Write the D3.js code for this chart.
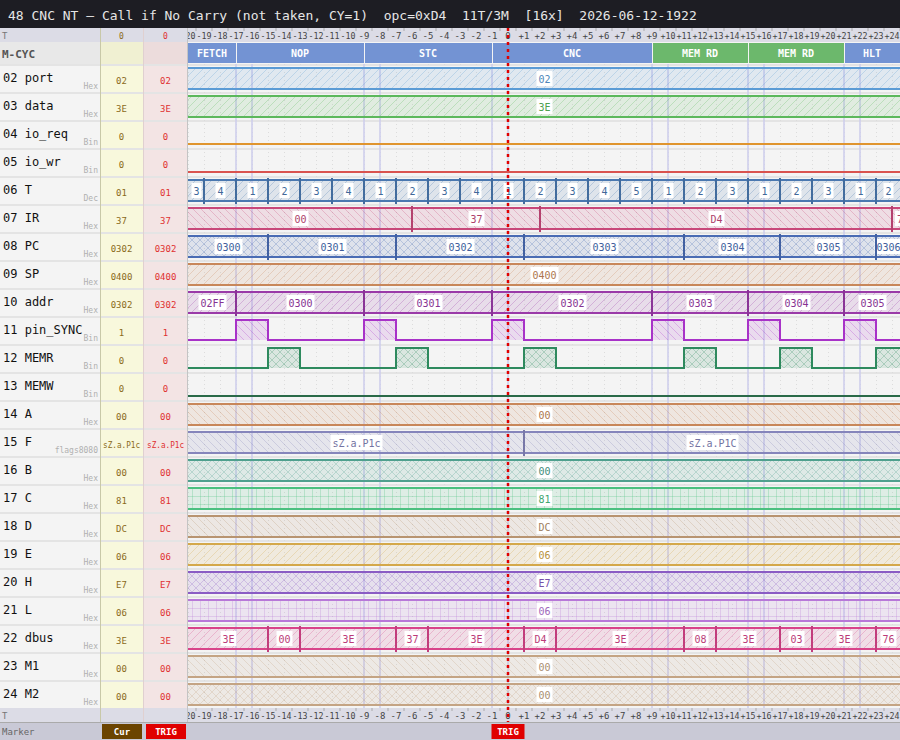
<!DOCTYPE html>
<html>
<head>
<meta charset="utf-8">
<script src="https://cdn.jsdelivr.net/npm/d3@7"></script>
<style>
  body { margin: 0; background: #f4f4f4; }
  svg { display: block; font-family: "DejaVu Sans Mono", monospace; }
</style>
</head>
<body>
<svg id="chart" width="900" height="740"></svg>
<script>
// time axis (half-clock ticks) and machine cycles
var ticks = d3.range(-20, 25);
var mcycNames  = ["FETCH", "NOP", "STC", "CNC", "MEM RD", "MEM RD", "HLT"];
var mcycStarts = [-20, -17, -9, -1, 9, 15, 21];
var mcycKinds  = ["op", "op", "op", "op", "mem", "mem", "op"];

// signal names, display type, cur/trig values
var sigNames = ["02 port", "03 data", "04 io_req", "05 io_wr", "06 T", "07 IR", "08 PC", "09 SP",
  "10 addr", "11 pin_SYNC", "12 MEMR", "13 MEMW", "14 A", "15 F", "16 B", "17 C", "18 D", "19 E",
  "20 H", "21 L", "22 dbus", "23 M1", "24 M2"];
var sigTypes = ["Hex", "Hex", "Bin", "Bin", "Dec", "Hex", "Hex", "Hex", "Hex", "Bin", "Bin", "Bin",
  "Hex", "flags8080", "Hex", "Hex", "Hex", "Hex", "Hex", "Hex", "Hex", "Hex", "Hex"];
var curVals = ["02", "3E", "0", "0", "01", "37", "0302", "0400", "0302", "1", "0", "0",
  "00", "sZ.a.P1c", "00", "81", "DC", "06", "E7", "06", "3E", "00", "00"];
var trigVals = curVals.slice();

// waveforms: [start tick, value]
var portSeg = [[-20, "02"]];
var dataSeg = [[-20, "3E"]];
var ioReq   = [[-20, 0]];
var ioWr    = [[-20, 0]];
var tSeg    = [[-20, "3"], [-19, "4"], [-17, "1"], [-15, "2"], [-13, "3"], [-11, "4"], [-9, "1"],
  [-7, "2"], [-5, "3"], [-3, "4"], [-1, "1"], [1, "2"], [3, "3"], [5, "4"], [7, "5"], [9, "1"],
  [11, "2"], [13, "3"], [15, "1"], [17, "2"], [19, "3"], [21, "1"], [23, "2"]];
var irSeg   = [[-20, "00"], [-6, "37"], [2, "D4"], [24, "76"]];
var pcSeg   = [[-20, "0300"], [-15, "0301"], [-7, "0302"], [1, "0303"], [11, "0304"], [17, "0305"], [23, "0306"]];
var spSeg   = [[-20, "0400"]];
var addrSeg = [[-20, "02FF"], [-17, "0300"], [-9, "0301"], [-1, "0302"], [9, "0303"], [15, "0304"], [21, "0305"]];
var syncBin = [[-20, 0], [-17, 1], [-15, 0], [-9, 1], [-7, 0], [-1, 1], [1, 0], [9, 1], [11, 0], [15, 1], [17, 0], [21, 1], [23, 0]];
var memrBin = [[-20, 0], [-15, 1], [-13, 0], [-7, 1], [-5, 0], [1, 1], [3, 0], [11, 1], [13, 0], [17, 1], [19, 0], [23, 1]];
var memwBin = [[-20, 0]];
var aSeg = [[-20, "00"]];
var fSeg = [[-20, "sZ.a.P1c"], [1, "sZ.a.P1C"]];
var bSeg = [[-20, "00"]];
var cSeg = [[-20, "81"]];
var dSeg = [[-20, "DC"]];
var eSeg = [[-20, "06"]];
var hSeg = [[-20, "E7"]];
var lSeg = [[-20, "06"]];
var dbusSeg = [[-20, "3E"], [-15, "00"], [-13, "3E"], [-7, "37"], [-5, "3E"], [1, "D4"], [3, "3E"],
  [11, "08"], [13, "3E"], [17, "03"], [19, "3E"], [23, "76"]];
var m1Seg = [[-20, "00"]];
var m2Seg = [[-20, "00"]];

var waves = [portSeg, dataSeg, ioReq, ioWr, tSeg, irSeg, pcSeg, spSeg, addrSeg, syncBin, memrBin, memwBin,
  aSeg, fSeg, bSeg, cSeg, dSeg, eSeg, hSeg, lSeg, dbusSeg, m1Seg, m2Seg];
var colors = ["#5b9bd5", "#5cb85c", "#e0952e", "#d9534f", "#4a78b0", "#c8487a", "#4a6cb4", "#c8875a",
  "#9a3aa8", "#a832c8", "#2e8a5e", "#2a6a48", "#c8875a", "#8585bb", "#4fa08e", "#4cc080", "#b89470",
  "#d4a84a", "#8a5cc4", "#b878d8", "#d8448a", "#c4a484", "#c4a484"];
var pats = ["fwd", "fwd", "", "", "fwd", "back", "cross", "fwd", "fwd", "back", "cross", "",
  "back", "back", "cross", "grid", "back", "fwd", "cross", "grid", "fwd", "back", "cross"];

var svg = d3.select("#chart");
var W = 900;
var x0 = 188, xEnd = 900;
var x = d3.scaleLinear().domain([-20, 24]).range([188, 892]);
var tMax = x.invert(xEnd);
var rowTop = 64, rowH = 28;
var y = function (i) { return rowTop + i * rowH; };

// patterns
var defs = svg.append("defs");
colors.forEach(function (c, i) {
  if (!pats[i]) return;
  var p = defs.append("pattern").attr("id", "p" + i).attr("patternUnits", "userSpaceOnUse")
    .attr("width", 8).attr("height", 8);
  p.append("rect").attr("width", 8).attr("height", 8).attr("fill", c).attr("fill-opacity", 0.13);
  var st = { stroke: c, "stroke-opacity": 0.35, "stroke-width": 0.8 };
  var lines = [];
  if (pats[i] === "fwd" || pats[i] === "cross") lines.push([0, 8, 8, 0], [-2, 2, 2, -2], [6, 10, 10, 6]);
  if (pats[i] === "back" || pats[i] === "cross") lines.push([0, 0, 8, 8], [-2, 6, 2, 10], [6, -2, 10, 2]);
  if (pats[i] === "grid") lines.push([0, 0.5, 8, 0.5], [0.5, 0, 0.5, 8]);
  lines.forEach(function (l) {
    var ln = p.append("line").attr("x1", l[0]).attr("y1", l[1]).attr("x2", l[2]).attr("y2", l[3]);
    for (var k in st) ln.attr(k, st[k]);
  });
});
defs.append("clipPath").attr("id", "plotClip").append("rect")
  .attr("x", x0).attr("y", 0).attr("width", xEnd - x0).attr("height", 740);

// title bar
svg.append("rect").attr("width", W).attr("height", 28).attr("fill", "#1d1d23");
svg.append("text").attr("x", 8).attr("y", 20).attr("fill", "#e6e6e6").attr("font-size", 13)
  .style("white-space", "pre")
  .text("48 CNC NT \u2014 Call if No Carry (not taken, CY=1)  opc=0xD4  11T/3M  [16x]  2026-06-12-1922");

// column backgrounds
svg.append("rect").attr("x", 0).attr("y", 28).attr("width", 100).attr("height", 694).attr("fill", "#f4f4f4");
svg.append("rect").attr("x", 100).attr("y", 28).attr("width", 43).attr("height", 694).attr("fill", "#f8f8dc");
svg.append("rect").attr("x", 143).attr("y", 28).attr("width", 45).attr("height", 694).attr("fill", "#f3e4e4");
svg.append("rect").attr("x", x0).attr("y", 28).attr("width", xEnd - x0).attr("height", 694).attr("fill", "#f4f4f4");

// M-CYC row backgrounds
svg.append("rect").attr("x", 0).attr("y", 42).attr("width", 100).attr("height", 22).attr("fill", "#e8e8e8");
svg.append("rect").attr("x", 100).attr("y", 42).attr("width", 43).attr("height", 22).attr("fill", "#f0f0d2");
svg.append("rect").attr("x", 143).attr("y", 42).attr("width", 45).attr("height", 22).attr("fill", "#ecdcdc");

// T axis rows (top and bottom)
function tickText(d) { return d > 0 ? "+" + d : String(d); }
function tRow(yy) {
  svg.append("rect").attr("x", 0).attr("y", yy).attr("width", W).attr("height", 14).attr("fill", "#dcdce6");
  svg.append("text").attr("x", 2).attr("y", yy + 11).attr("font-size", 9).attr("fill", "#777").text("T");
  var g = svg.append("g").attr("clip-path", "url(#plotClip)");
  g.selectAll("line").data(ticks).join("line")
    .attr("x1", function (d) { return x(d) + 8; }).attr("x2", function (d) { return x(d) + 8; })
    .attr("y1", yy).attr("y2", yy + 3).attr("stroke", "#aaa");
  g.selectAll("text").data(ticks).join("text")
    .attr("x", function (d) { return x(d); }).attr("y", yy + 11)
    .attr("text-anchor", "middle").attr("font-size", 9).attr("fill", "#444")
    .attr("textLength", function (d) { return tickText(d).length >= 3 ? 15 : null; })
    .attr("lengthAdjust", "spacingAndGlyphs")
    .text(tickText);
}
tRow(28);
tRow(708);
svg.append("text").attr("x", 121.5).attr("y", 39).attr("text-anchor", "middle").attr("font-size", 8)
  .attr("fill", "#8a6a20").text("0");
svg.append("text").attr("x", 165.5).attr("y", 39).attr("text-anchor", "middle").attr("font-size", 8)
  .attr("fill", "#e03030").text("0");

// M-CYC row
svg.append("text").attr("x", 2).attr("y", 58).attr("font-size", 11).attr("font-weight", "bold")
  .attr("fill", "#555").text("M-CYC");
var mc = mcycNames.map(function (n, i) {
  return { name: n, s: mcycStarts[i], e: i < mcycStarts.length - 1 ? mcycStarts[i + 1] : tMax, kind: mcycKinds[i] };
});
var mg = svg.append("g").attr("clip-path", "url(#plotClip)");
mg.selectAll("rect").data(mc).join("rect")
  .attr("x", function (d) { return x(d.s) + (d.s === -20 ? 0 : 1); })
  .attr("width", function (d) { return x(d.e) - x(d.s) - (d.s === -20 ? 0 : 1); })
  .attr("y", 43).attr("height", 20)
  .attr("fill", function (d) { return d.kind === "mem" ? "#6cb86c" : "#7393d3"; });
mg.selectAll("text").data(mc).join("text")
  .attr("x", function (d) { return (x(d.s) + Math.min(x(d.e), xEnd)) / 2; }).attr("y", 57)
  .attr("text-anchor", "middle").attr("font-size", 10).attr("font-weight", "bold").attr("fill", "#fff")
  .text(function (d) { return d.name; });

// signal rows: labels, cur/trig values, separators
var rows = svg.append("g");
function valText(g, xx, top, v, fill) {
  var t = g.append("text").attr("x", xx).attr("y", top + 20).attr("text-anchor", "middle")
    .attr("font-size", v.length > 5 ? 8 : 9).attr("fill", fill).text(v);
  if (v.length > 5) t.attr("textLength", 37).attr("lengthAdjust", "spacingAndGlyphs");
}
sigNames.forEach(function (n, i) {
  var top = y(i);
  rows.append("rect").attr("x", 0).attr("y", top).attr("width", W).attr("height", 2).attr("fill", "#e4e4e4");
  rows.append("text").attr("x", 3).attr("y", top + 18).attr("font-size", 12).attr("fill", "#111").text(n);
  rows.append("text").attr("x", 98).attr("y", top + 25).attr("text-anchor", "end").attr("font-size", 8)
    .attr("fill", "#b0b0b0").text(sigTypes[i]);
  valText(rows, 121.5, top, curVals[i], "#8a6a20");
  valText(rows, 165.5, top, trigVals[i], "#e03030");
});
svg.append("line").attr("x1", 100.5).attr("x2", 100.5).attr("y1", 28).attr("y2", 722).attr("stroke", "#c8c8a8");
svg.append("line").attr("x1", 143.5).attr("x2", 143.5).attr("y1", 28).attr("y2", 722).attr("stroke", "#e0d0d0");
svg.append("line").attr("x1", 187.5).attr("x2", 187.5).attr("y1", 28).attr("y2", 722).attr("stroke", "#c4c4c4");

// grid: dotted tick lines + M-cycle lines
var plot = svg.append("g").attr("clip-path", "url(#plotClip)");
plot.selectAll("line.tk").data(ticks).join("line").attr("class", "tk")
  .attr("x1", function (d) { return x(d) + 0.5; }).attr("x2", function (d) { return x(d) + 0.5; })
  .attr("y1", rowTop).attr("y2", 708).attr("stroke", "#dcdcdc").attr("stroke-dasharray", "1,3");
var mLines = [];
mcycStarts.slice(1).forEach(function (s) { mLines.push(s, s + 1); });
plot.selectAll("line.mc").data(mLines).join("line").attr("class", "mc")
  .attr("x1", function (d) { return x(d); }).attr("x2", function (d) { return x(d); })
  .attr("y1", rowTop).attr("y2", 708).attr("stroke", "#cfcfec").attr("stroke-width", 1.6);

// waveforms
waves.forEach(function (segs, i) {
  var top = y(i), c = colors[i];
  var list = segs.map(function (s, k) {
    return { s: s[0], e: k < segs.length - 1 ? segs[k + 1][0] : tMax, v: s[1] };
  });
  var g = plot.append("g");
  if (sigTypes[i] === "Bin") {
    var yHi = top + 4, yLo = top + 24;
    list.forEach(function (d) {
      if (d.v === 1 && pats[i]) {
        g.append("rect").attr("x", x(d.s)).attr("y", yHi).attr("width", x(d.e) - x(d.s))
          .attr("height", yLo - yHi).attr("fill", "url(#p" + i + ")");
      }
    });
    var pts = [];
    list.forEach(function (d) {
      var yy = d.v ? yHi : yLo;
      pts.push([x(d.s), yy], [x(d.e), yy]);
    });
    g.append("path").attr("d", d3.line()(pts)).attr("fill", "none").attr("stroke", c).attr("stroke-width", 2);
    return;
  }
  var y0 = top + 4, y1 = top + 25;
  g.selectAll("rect.seg").data(list).join("rect").attr("class", "seg")
    .attr("x", function (d) { return x(d.s); }).attr("width", function (d) { return x(d.e) - x(d.s); })
    .attr("y", y0).attr("height", y1 - y0).attr("fill", "url(#p" + i + ")");
  g.append("line").attr("x1", x0).attr("x2", xEnd).attr("y1", y0).attr("y2", y0)
    .attr("stroke", c).attr("stroke-width", 2);
  g.append("line").attr("x1", x0).attr("x2", xEnd).attr("y1", y1).attr("y2", y1)
    .attr("stroke", c).attr("stroke-width", 2);
  list.forEach(function (d) {
    var a = x(d.s) + 1, b = Math.min(x(d.e), xEnd);
    var w = d.v.length * 6 + 4;
    var cx = (a + b) / 2;
    // a label in a very narrow clipped segment starts just after the edge
    if (b - a < w * 0.6) cx = a + 2 + w / 2;
    g.append("rect").attr("x", cx - w / 2).attr("y", top + 7).attr("width", w).attr("height", 15)
      .attr("fill", "#fff");
    g.append("text").attr("x", cx).attr("y", top + 18.5).attr("text-anchor", "middle")
      .attr("font-size", 10).attr("fill", d3.color(c).darker(0.4)).text(d.v);
  });
  g.selectAll("line.tr").data(list.slice(1)).join("line").attr("class", "tr")
    .attr("x1", function (d) { return x(d.s); }).attr("x2", function (d) { return x(d.s); })
    .attr("y1", y0 - 2).attr("y2", y1 + 3).attr("stroke", d3.color(c).darker(0.3)).attr("stroke-width", 2);
});

// trigger line
svg.append("line").attr("x1", x(0)).attr("x2", x(0)).attr("y1", 28).attr("y2", 722)
  .attr("stroke", "#e00000").attr("stroke-width", 2.5).attr("stroke-dasharray", "3,4");

// marker row
svg.append("rect").attr("x", 0).attr("y", 722).attr("width", W).attr("height", 18).attr("fill", "#c9c9d6");
svg.append("rect").attr("x", 0).attr("y", 722).attr("width", W).attr("height", 1).attr("fill", "#aaa");
svg.append("text").attr("x", 2).attr("y", 735).attr("font-size", 9).attr("fill", "#666").text("Marker");
var markers = [{ x: 102, w: 40, fill: "#6b4400", t: "Cur" }, { x: 146, w: 40, fill: "#e00000", t: "TRIG" },
  { x: x(0) - 16.5, w: 33, fill: "#e00000", t: "TRIG" }];
svg.selectAll("g.mk").data(markers).join("g").attr("class", "mk").each(function (d) {
  var g = d3.select(this);
  g.append("rect").attr("x", d.x).attr("y", 724).attr("width", d.w).attr("height", 15).attr("fill", d.fill);
  g.append("text").attr("x", d.x + d.w / 2).attr("y", 735).attr("text-anchor", "middle")
    .attr("font-size", 9).attr("font-weight", "bold").attr("fill", "#fff").text(d.t);
});
</script>
</body>
</html>
